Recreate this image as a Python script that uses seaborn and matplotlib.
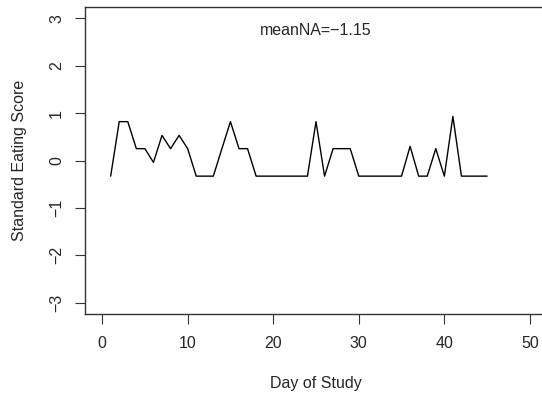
import matplotlib
matplotlib.use("Agg")
import matplotlib.pyplot as plt
import seaborn as sns
import pandas as pd

# Daily standardised eating scores over the study period
days = list(range(1, 46))
scores = [
    -0.33, 0.82, 0.82, 0.25, 0.25, -0.04, 0.53, 0.25, 0.53, 0.25,
    -0.33, -0.33, -0.33, 0.25, 0.82, 0.25, 0.25, -0.33, -0.33, -0.33,
    -0.33, -0.33, -0.33, -0.33, 0.82, -0.33, 0.25, 0.25, 0.25, -0.33,
    -0.33, -0.33, -0.33, -0.33, -0.33, 0.30, -0.33, -0.33, 0.25, -0.33,
    0.93, -0.33, -0.33, -0.33, -0.33,
]
x_ticks = [0, 10, 20, 30, 40, 50]
y_ticks = [-3, -2, -1, 0, 1, 2, 3]
annotation = "meanNA=\u22121.15"

df = pd.DataFrame({"day": days, "score": scores})

sns.set_style("white")
plt.rcParams["font.family"] = ["Liberation Sans", "DejaVu Sans"]

FS = 11.5

fig = plt.figure(figsize=(5.42, 3.98), dpi=100)
ax = fig.add_axes([85 / 542, 1 - 314 / 398, 462 / 542, 307 / 398])

sns.lineplot(data=df, x="day", y="score", ax=ax, color="black", linewidth=1.0)

ax.set_xlim(-2, 52)
ax.set_ylim(-3.24, 3.24)
ax.set_xticks(x_ticks)
ax.set_yticks(y_ticks)
ax.set_xticklabels([str(t) for t in x_ticks], fontsize=FS)
ax.set_yticklabels([str(t).replace("-", "\u2212") for t in y_ticks],
                   fontsize=FS, rotation=90, va="center")
ax.tick_params(axis="both", direction="out", length=7, width=0.8,
               color="#333333", bottom=True, left=True)
ax.tick_params(axis="x", pad=9)
ax.tick_params(axis="y", pad=8)

for side in ["left", "right", "top", "bottom"]:
    ax.spines[side].set_visible(True)
    ax.spines[side].set_color("#333333")
    ax.spines[side].set_linewidth(1.0)

ax.set_xlabel("Day of Study", fontsize=FS, labelpad=18)
ax.set_ylabel("Standard Eating Score", fontsize=FS, labelpad=16)

ax.text(25, 2.75, annotation, ha="center", va="center", fontsize=FS)

fig.savefig("out.png", dpi=100)
